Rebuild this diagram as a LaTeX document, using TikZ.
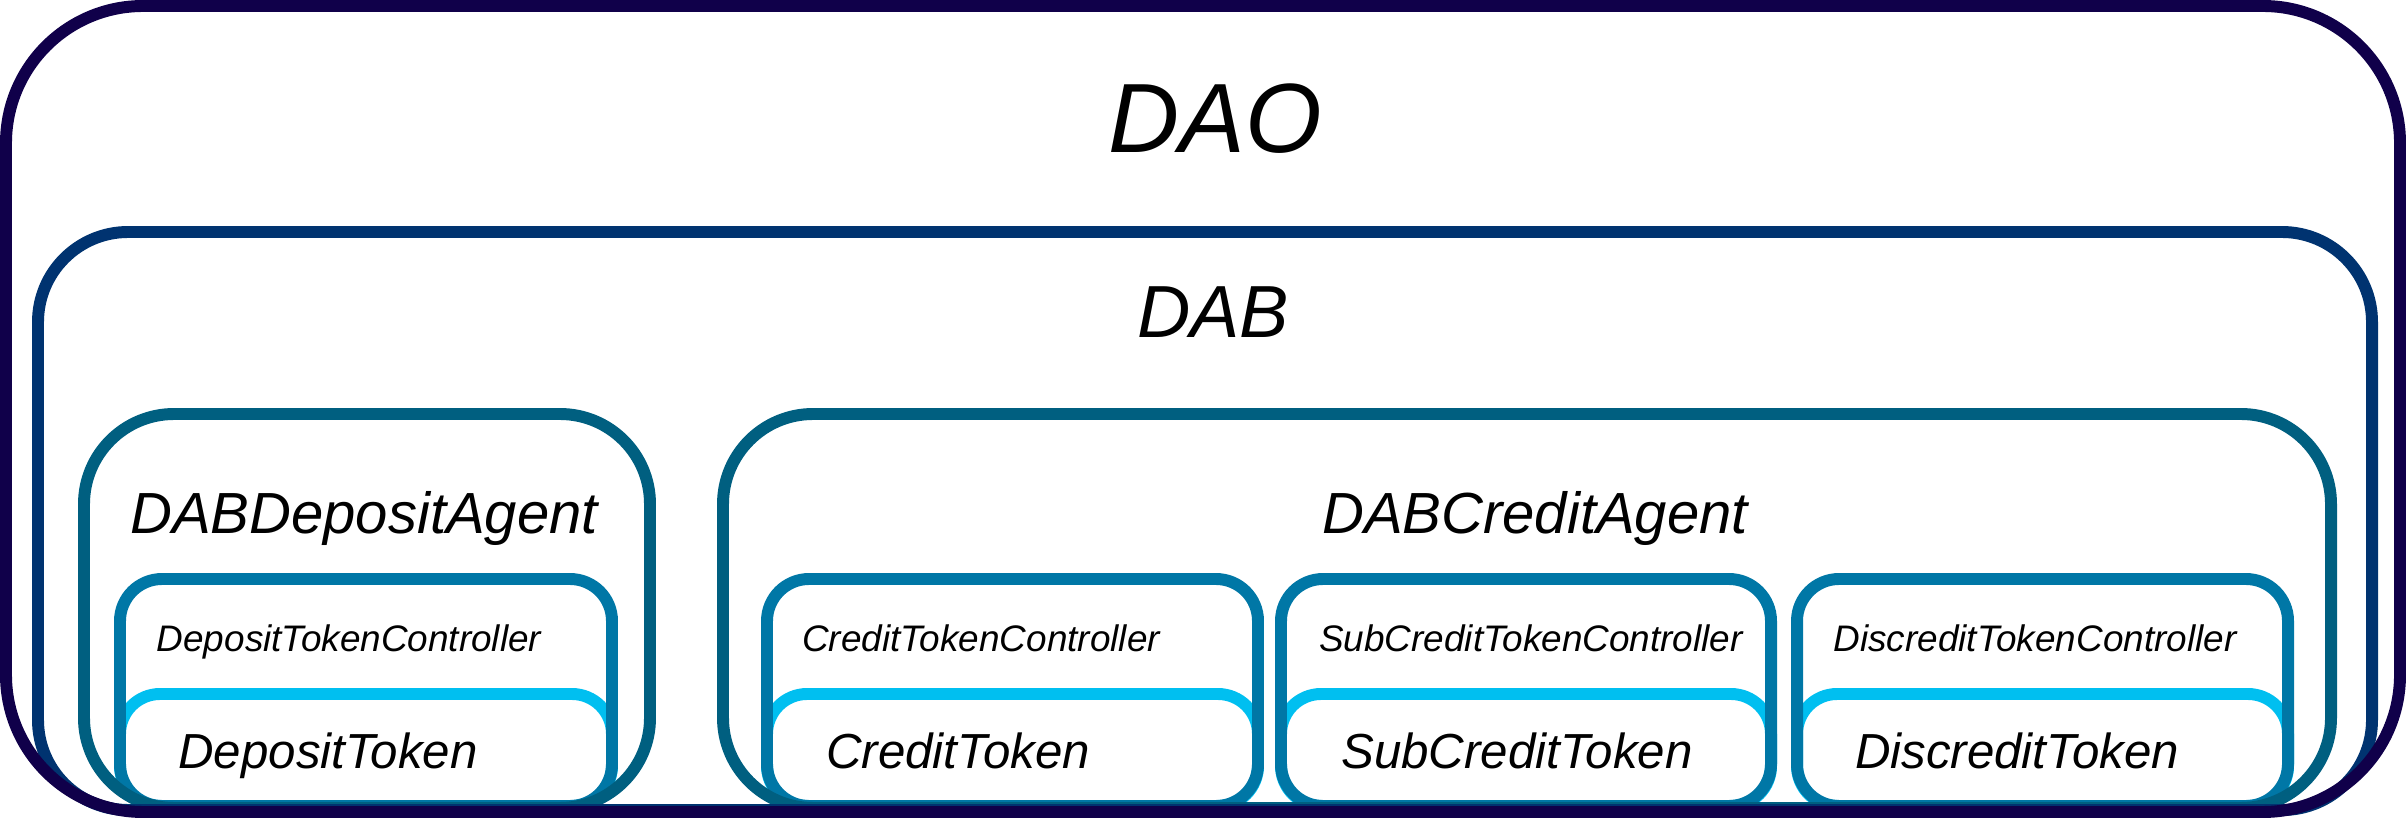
\documentclass[tikz,border=0pt]{standalone}
\usepackage{fontspec}
\setmainfont{Liberation Sans}
\usepackage{tikz}
\usetikzlibrary{positioning}
\definecolor{DaoInk}{HTML}{10004A}
\definecolor{DabNavy}{HTML}{003370}
\definecolor{AgentTeal}{HTML}{005F80}
\definecolor{CtrlBlue}{HTML}{0077A6}
\definecolor{TokenCyan}{HTML}{00BFF0}
\tikzset{
  frame/.style={draw=#1, line width=3.4pt},
  lbl/.style={anchor=base, inner sep=0pt, font=\itshape},
  huge label/.style={lbl, font=\itshape\fontsize{28}{34}\selectfont},
  big label/.style={lbl, font=\itshape\fontsize{21}{25}\selectfont},
  agent label/.style={lbl, font=\itshape\fontsize{16.5}{20}\selectfont},
  ctrl label/.style={lbl, font=\itshape\fontsize{10.5}{13}\selectfont},
  token label/.style={lbl, font=\itshape\fontsize{14}{17}\selectfont}
}

\begin{document}
\begin{tikzpicture}[x=0.01cm, y=-0.01cm]
  \useasboundingbox (0,0) rectangle (2406,819);

  % token boxes (drawn first, the controllers sit on their sides)
  \draw[frame=TokenCyan, rounded corners=0.4cm] (120,694) rectangle (612,806);
  \draw[frame=TokenCyan, rounded corners=0.4cm] (767,694) rectangle (1258,806);
  \draw[frame=TokenCyan, rounded corners=0.4cm] (1281,694) rectangle (1771,806);
  \draw[frame=TokenCyan, rounded corners=0.4cm] (1797,694) rectangle (2288,806);

  % controllers
  \draw[frame=CtrlBlue, rounded corners=0.42cm] (120,579) rectangle (612,806);
  \draw[frame=CtrlBlue, rounded corners=0.42cm] (767,579) rectangle (1258,806);
  \draw[frame=CtrlBlue, rounded corners=0.42cm] (1281,579) rectangle (1771,806);
  \draw[frame=CtrlBlue, rounded corners=0.42cm] (1797,579) rectangle (2288,806);

  % agents
  \draw[frame=AgentTeal, rounded corners=0.9cm] (84,414) rectangle (650,808);
  \draw[frame=AgentTeal, rounded corners=0.9cm] (723,414) rectangle (2331,808);

  % DAB and DAO
  \draw[frame=DabNavy, rounded corners=0.9cm] (38,232) rectangle (2372,810);
  \draw[frame=DaoInk, rounded corners=1.37cm] (6,6) rectangle (2400,812);

  \node[huge label] (dao) at (1215,153) {DAO};
  \node[big label] (dab) at (1213,338) {DAB};
  \node[agent label] (depositagent) at (364,534) {DABDepositAgent};
  \node[agent label] (creditagent) at (1535,534) {DABCreditAgent};

  \node[ctrl label] (depositctrl) at (349,652) {DepositTokenController};
  \node[ctrl label] (creditctrl) at (981,652) {CreditTokenController};
  \node[ctrl label] (subcreditctrl) at (1531,652) {SubCreditTokenController};
  \node[ctrl label] (discreditctrl) at (2035,652) {DiscreditTokenController};

  \node[token label] (deposittoken) at (328,768) {DepositToken};
  \node[token label] (credittoken) at (958,768) {CreditToken};
  \node[token label] (subcredittoken) at (1517,768) {SubCreditToken};
  \node[token label] (discredittoken) at (2017,768) {DiscreditToken};
\end{tikzpicture}
\end{document}
